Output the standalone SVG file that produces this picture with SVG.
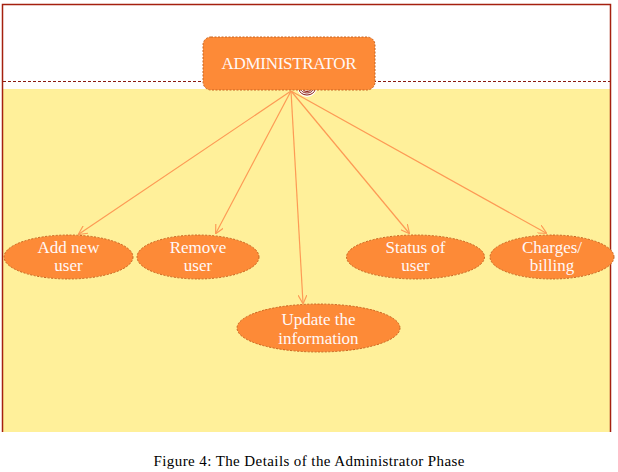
<svg xmlns="http://www.w3.org/2000/svg" width="618" height="472" viewBox="0 0 618 472">
<style>
.frame{fill:none;stroke:#A5200F;stroke-width:1.5}
.node{fill:#FD8A37;stroke:#C86420;stroke-width:1;stroke-dasharray:2 1.5}
.lbl{font-family:"Liberation Serif",serif;font-size:17px;fill:#FFF8F8;text-anchor:middle}
.conn{stroke:#FD9A55;stroke-width:1.2;fill:none;marker-end:url(#arr)}
</style>
<defs>
<marker id="arr" viewBox="0 0 10 10" refX="9" refY="5" markerWidth="9" markerHeight="9" orient="auto" markerUnits="userSpaceOnUse">
<path d="M0,0 L10,5 L0,10" fill="none" stroke="#FD9A55" stroke-width="1.3"/>
</marker>
</defs>
<rect x="0" y="0" width="618" height="472" fill="#FFFFFF"/>
<rect x="3" y="89" width="607" height="343" fill="#FFF09A"/>
<path class="frame" d="M2.5,432 L2.5,4.5 L610.5,4.5 L610.5,432"/>
<line x1="3" y1="81.5" x2="610" y2="81.5" stroke="#8B1A10" stroke-width="1" stroke-dasharray="3 2"/>
<g id="hub-symbol">
<circle cx="307" cy="87" r="10" fill="#FFFFFF"/>
<path d="M299,89 A8,6 0 0 0 315,89" fill="none" stroke="#8B1A10" stroke-width="1"/>
<path d="M301,89 A6,4 0 0 0 313,89" fill="none" stroke="#8B1A10" stroke-width="1"/>
<path d="M303,89 A4,2.5 0 0 0 311,89" fill="none" stroke="#8B1A10" stroke-width="1"/>
</g>
<g id="connectors">
<line class="conn" x1="291" y1="91" x2="79" y2="234"/>
<line class="conn" x1="291" y1="91" x2="216" y2="233"/>
<line class="conn" x1="291" y1="91" x2="303" y2="303"/>
<line class="conn" x1="291" y1="91" x2="409" y2="233"/>
<line class="conn" x1="291" y1="91" x2="546" y2="233"/>
</g>
<g id="administrator">
<rect class="node" x="203" y="37" width="172" height="53" rx="8"/>
<text class="lbl" x="289" y="69" textLength="135">ADMINISTRATOR</text>
</g>
<g id="add-new-user">
<ellipse class="node" cx="68.5" cy="257" rx="64.5" ry="22"/>
<text class="lbl" x="68.5" y="253">Add new</text>
<text class="lbl" x="68.5" y="271">user</text>
</g>
<g id="remove-user">
<ellipse class="node" cx="198" cy="257" rx="61" ry="22"/>
<text class="lbl" x="198" y="253">Remove</text>
<text class="lbl" x="198" y="271">user</text>
</g>
<g id="update-information">
<ellipse class="node" cx="318.5" cy="328" rx="81.5" ry="24"/>
<text class="lbl" x="318.5" y="325">Update the</text>
<text class="lbl" x="318.5" y="344">information</text>
</g>
<g id="status-of-user">
<ellipse class="node" cx="415.5" cy="257" rx="69" ry="22"/>
<text class="lbl" x="415.5" y="253">Status of</text>
<text class="lbl" x="415.5" y="271">user</text>
</g>
<g id="charges-billing">
<ellipse class="node" cx="552" cy="257" rx="62" ry="22"/>
<text class="lbl" x="552" y="253">Charges/</text>
<text class="lbl" x="552" y="271">billing</text>
</g>
<text x="309" y="466" font-family="Liberation Serif,serif" font-size="15" fill="#000000" text-anchor="middle" textLength="311">Figure 4: The Details of the Administrator Phase</text>
</svg>
